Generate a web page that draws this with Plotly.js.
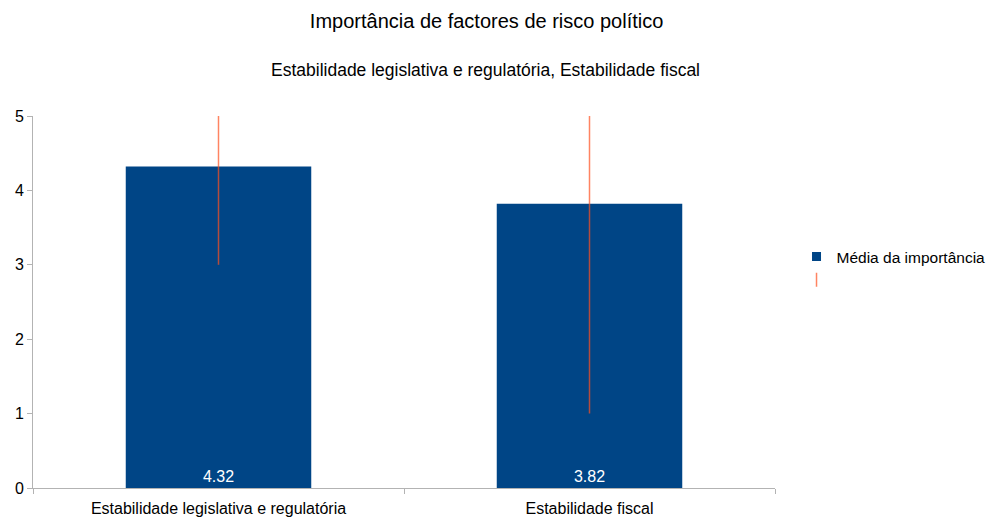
<!DOCTYPE html>
<html>
<head>
<meta charset="utf-8">
<script src="https://cdn.plot.ly/plotly-3.0.1.min.js"></script>
<style>html,body{margin:0;padding:0;background:#fff;}#chart{width:989px;height:517px;}</style>
</head>
<body>
<div id="chart"></div>
<script>
const categories = ["Estabilidade legislativa e regulatória", "Estabilidade fiscal"];
const means = [4.32, 3.82];
const errPlus = [0.68, 1.18];
const errMinus = [1.32, 2.82];
const yTicks = [0, 1, 2, 3, 4, 5];
const seriesName = "Média da importância";

const font = "Liberation Sans, Arial, sans-serif";
const barColor = "#004586";
const errColor = "rgba(255,80,32,0.7)";

const traces = [
  {
    type: "bar",
    x: categories,
    y: means,
    width: 0.5,
    marker: {color: barColor},
    texttemplate: "%{y:.2f}",
    textposition: "inside",
    insidetextanchor: "start",
    textfont: {color: "#ffffff", size: 16, family: font},
    error_y: {type: "data", symmetric: false, array: errPlus, arrayminus: errMinus,
              color: errColor, thickness: 1.5, width: 0},
    showlegend: false,
    hoverinfo: "x+y"
  },
  {
    type: "scatter", mode: "markers", x: [null], y: [null],
    name: seriesName,
    marker: {symbol: "square", size: 9, color: barColor}
  },
  {
    type: "scatter", mode: "markers", x: [null], y: [null],
    name: " ",
    marker: {symbol: "line-ns", size: 10, line: {color: errColor, width: 1.5}}
  }
];

const layout = {
  width: 989, height: 517,
  paper_bgcolor: "#ffffff", plot_bgcolor: "#ffffff",
  font: {family: font, size: 16, color: "#000000"},
  margin: {l: 33, r: 214, t: 116, b: 29, autoexpand: false},
  title: {text: "Importância de factores de risco político", font: {size: 20, family: font}, x: 0.492, xref: "container", xanchor: "center", y: 0.96, yanchor: "middle", yref: "container"},
  annotations: [{
    text: "Estabilidade legislativa e regulatória, Estabilidade fiscal",
    xref: "paper", yref: "paper", x: 0.6105, y: 1, yshift: 46,
    xanchor: "center", yanchor: "middle", showarrow: false,
    font: {size: 17.5, family: font}
  }],
  xaxis: {
    type: "category", showline: true, linecolor: "#b3b3b3", linewidth: 1,
    ticks: "outside", tickson: "boundaries", ticklen: 5, tickcolor: "#b3b3b3",
    showgrid: false, zeroline: false, tickfont: {size: 16}, ticklabelstandoff: 6
  },
  yaxis: {
    range: [0, 5], tickvals: yTicks, showline: true, linecolor: "#b3b3b3", linewidth: 1,
    ticks: "outside", ticklen: 5, tickcolor: "#b3b3b3", showgrid: false, zeroline: false,
    tickfont: {size: 16}
  },
  legend: {x: 1.029, y: 0.59, xanchor: "left", yanchor: "middle", font: {size: 15.5},
           tracegroupgap: 0, itemwidth: 30, borderwidth: 0},
  bargap: 0.5
};

Plotly.newPlot("chart", traces, layout, {displayModeBar: false, staticPlot: true});
</script>
</body>
</html>
